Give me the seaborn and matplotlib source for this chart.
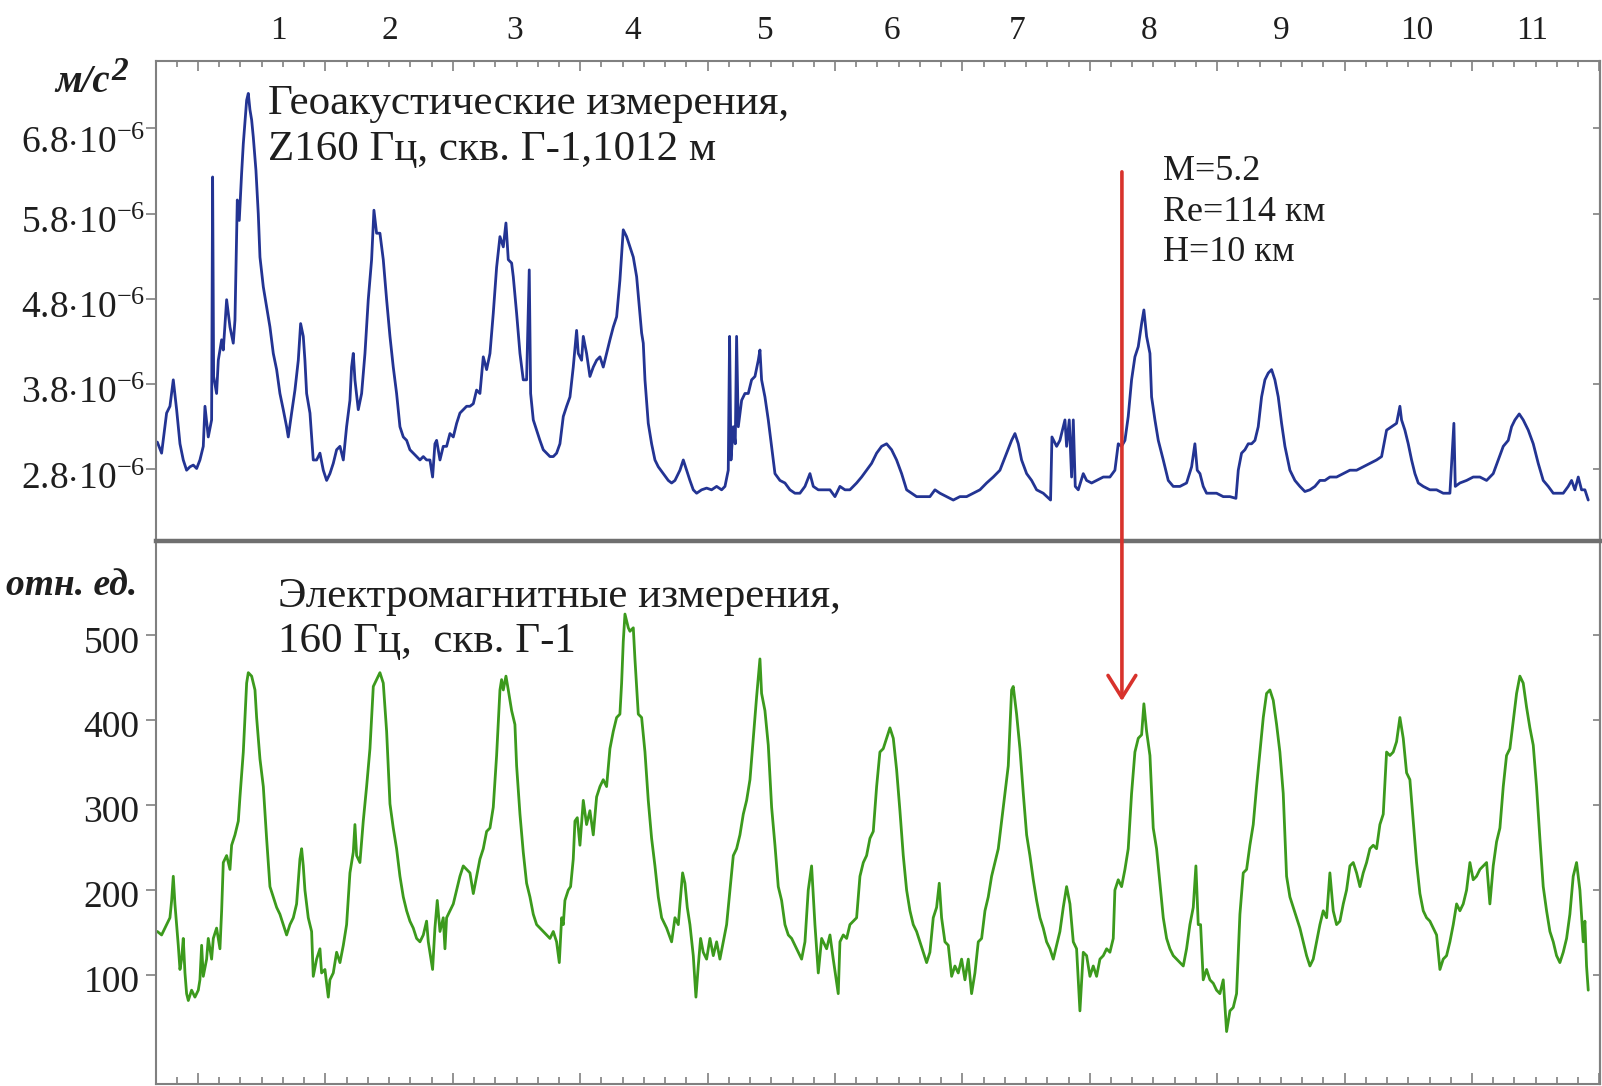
import matplotlib
matplotlib.use("Agg")
import numpy as np
import pandas as pd
import matplotlib.pyplot as plt
import matplotlib.transforms as mtransforms
import seaborn as sns
from matplotlib.patches import ConnectionPatch
from matplotlib.ticker import FixedLocator, NullFormatter

# ---- data (time in hours from the left edge) ----
# geoacoustic signal, Z 160 Hz, units of 1e-6 m/s^2
geo_hours = [
    0.33, 1.14, 2.08, 2.71, 3.34, 3.97, 4.60, 5.22, 5.85, 6.48,
    7.11, 7.74, 8.36, 8.99, 9.31, 9.93, 10.56, 10.75, 10.94, 11.50,
    11.82, 12.45, 12.76, 13.39, 14.02, 14.64, 14.96, 15.40, 15.77, 16.21,
    16.53, 17.16, 17.47, 17.78, 18.10, 18.41, 18.91, 19.35, 19.67, 20.30,
    20.92, 21.55, 22.18, 22.81, 23.43, 24.06, 24.69, 25.00, 25.63, 26.26,
    26.89, 27.33, 27.83, 28.14, 28.46, 29.09, 29.71, 30.34, 30.97, 31.60,
    32.23, 32.85, 33.48, 34.11, 34.74, 35.37, 35.99, 36.62, 36.93, 37.25,
    37.56, 38.19, 38.82, 39.45, 40.07, 40.70, 41.14, 41.64, 42.27, 42.90,
    43.53, 44.16, 44.78, 45.41, 46.04, 46.67, 47.30, 47.92, 48.55, 49.18,
    49.81, 50.44, 51.06, 51.69, 52.19, 52.63, 52.95, 53.58, 54.20, 54.83,
    55.46, 56.09, 56.72, 57.34, 57.97, 58.60, 59.23, 59.86, 60.48, 61.11,
    61.74, 62.37, 63.00, 63.62, 64.25, 64.88, 65.51, 66.01, 66.45, 67.08,
    67.39, 68.02, 68.65, 69.27, 69.90, 70.40, 70.66, 71.16, 71.79, 72.41,
    73.04, 73.67, 74.30, 74.93, 75.55, 76.18, 76.81, 77.44, 78.07, 78.69,
    79.32, 79.63, 80.26, 80.58, 81.20, 81.83, 82.46, 83.09, 83.72, 84.34,
    84.97, 85.60, 86.23, 86.86, 87.48, 88.11, 88.74,
    89.37, 90.00, 90.63, 91.25, 91.57, 91.88, 92.20, 92.82, 93.45, 94.08,
    94.71, 95.65, 96.59, 97.22, 97.85, 98.79, 99.42, 100.05, 100.67, 101.30,
    101.93, 102.87, 103.81, 104.75, 105.70, 106.64, 107.27, 107.89, 108.14, 108.40,
    108.84, 109.21, 109.46, 109.78, 110.41, 111.03, 111.66, 112.29, 112.92, 113.55,
    113.86, 114.17, 114.80, 115.43, 116.06, 116.69, 117.63, 118.57, 119.51, 120.45,
    121.39, 122.34, 123.28, 123.91, 124.85, 125.79, 127.05, 127.99, 128.93, 129.87,
    130.81, 132.07, 133.01, 133.95, 134.89, 135.84, 136.78, 137.72, 138.66, 139.60,
    140.55, 141.49, 142.43, 143.37, 144.63, 145.88, 146.83, 147.77, 149.02, 150.28,
    151.53, 152.79, 154.05, 155.30, 156.56, 157.81, 159.07, 160.33, 161.27, 161.90,
    162.53, 163.15, 164.10, 165.04, 165.98, 167.23, 168.61, 168.87, 169.75, 170.37,
    171.00, 171.32, 171.63, 172.13, 172.57, 172.89, 173.26, 173.83, 174.77, 175.40,
    176.34, 177.28, 178.54,
    179.79, 180.73, 181.36, 181.99, 182.62, 183.24, 183.87, 184.50, 185.13, 185.76,
    186.19, 186.70, 187.33, 187.64, 188.27, 188.90, 189.84, 190.78, 191.72, 192.98,
    194.23, 195.18, 195.80, 196.24, 196.75, 197.37, 198.00, 198.94, 199.88, 201.14,
    202.40, 203.53, 203.97, 204.59, 205.22, 205.85, 206.48, 207.11, 207.73, 208.36,
    208.99, 209.62, 210.25, 210.87, 211.50, 212.13, 212.76, 213.70, 214.64, 215.58,
    216.52, 217.47, 218.41, 219.35, 220.29, 221.23, 222.49, 223.75, 225.00, 226.26,
    227.51, 228.77, 230.02, 230.97, 231.91, 232.85, 233.79, 234.42, 234.73, 235.36,
    235.99, 236.62, 237.25, 237.88, 238.82, 240.07, 241.33, 242.58, 243.84, 244.59,
    244.85, 245.72, 246.98, 248.23, 249.49, 250.75, 252.00, 252.94, 253.89, 254.83,
    255.46, 256.09, 256.90, 257.65, 258.60, 259.54, 260.48, 261.42, 262.37, 263.31,
    264.25, 265.19, 266.13, 266.76, 267.39, 268.02, 268.64, 269.27, 269.90,
]
geo_values = [
    3.12, 2.99, 3.46, 3.54, 3.85, 3.50, 3.10, 2.91, 2.79, 2.83,
    2.85, 2.81, 2.91, 3.07, 3.54, 3.18, 3.38, 6.23, 3.89, 3.69,
    4.08, 4.32, 4.20, 4.79, 4.47, 4.28, 4.55, 5.96, 5.72, 6.27,
    6.62, 7.13, 7.21, 7.02, 6.90, 6.70, 6.31, 5.80, 5.29, 4.94,
    4.71, 4.47, 4.16, 3.97, 3.69, 3.50, 3.30, 3.18, 3.46, 3.73,
    4.08, 4.51, 4.36, 4.08, 3.69, 3.46, 2.91, 2.91, 2.99, 2.79,
    2.67, 2.75, 2.87, 3.03, 3.07, 2.91, 3.30, 3.61, 4.00, 4.16,
    3.85, 3.50, 3.69, 4.16, 4.79, 5.26, 5.84, 5.57, 5.57, 5.26,
    4.79, 4.36, 4.00, 3.69, 3.30, 3.18, 3.14, 3.03, 2.99, 2.95,
    2.91, 2.95, 2.91, 2.91, 2.71, 3.10, 3.14, 2.91, 3.07, 3.07,
    3.22, 3.18, 3.34, 3.46, 3.50, 3.54, 3.54, 3.57, 3.73, 3.69,
    4.12, 3.97, 4.16, 4.63, 5.17, 5.53, 5.41, 5.69, 5.26, 5.22,
    5.06, 4.63, 4.16, 3.85, 3.85, 5.14, 3.69, 3.38, 3.26, 3.14,
    3.03, 2.99, 2.95, 2.95, 2.99, 3.10, 3.42, 3.54, 3.65, 4.00,
    4.43, 4.16, 4.08, 4.36, 4.16, 3.89, 4.00, 4.08, 4.12, 4.00,
    4.16, 4.32, 4.47, 4.59, 5.02, 5.61, 5.53,
    5.41, 5.29, 5.06, 4.63, 4.40, 4.28, 3.85, 3.34, 3.10, 2.91,
    2.83, 2.75, 2.67, 2.64, 2.67, 2.79, 2.91, 2.79, 2.67, 2.56,
    2.52, 2.56, 2.58, 2.56, 2.60, 2.56, 2.60, 2.79, 4.36, 2.91,
    3.30, 3.10, 4.36, 3.30, 3.61, 3.69, 3.69, 3.85, 3.89, 4.08,
    4.20, 3.85, 3.65, 3.38, 3.07, 2.75, 2.67, 2.64, 2.56, 2.52,
    2.52, 2.60, 2.75, 2.60, 2.56, 2.56, 2.56, 2.48, 2.60, 2.56,
    2.56, 2.64, 2.71, 2.79, 2.87, 2.99, 3.07, 3.10, 3.03, 2.91,
    2.75, 2.56, 2.52, 2.48, 2.48, 2.48, 2.56, 2.52, 2.48, 2.44,
    2.48, 2.48, 2.52, 2.56, 2.64, 2.71, 2.79, 2.99, 3.14, 3.22,
    3.10, 2.91, 2.75, 2.67, 2.56, 2.52, 2.44, 3.18, 3.07, 3.14,
    3.30, 3.38, 3.07, 3.38, 2.71, 3.38, 2.60, 2.56, 2.75, 2.67,
    2.64, 2.67, 2.71,
    2.71, 2.79, 3.10, 3.07, 3.14, 3.42, 3.85, 4.12, 4.24, 4.51,
    4.67, 4.36, 4.16, 3.65, 3.38, 3.14, 2.91, 2.67, 2.60, 2.60,
    2.64, 2.83, 3.10, 2.79, 2.75, 2.60, 2.52, 2.52, 2.52, 2.48,
    2.48, 2.46, 2.79, 2.99, 3.03, 3.10, 3.10, 3.14, 3.30, 3.65,
    3.85, 3.93, 3.97, 3.85, 3.65, 3.34, 3.07, 2.79, 2.67, 2.60,
    2.54, 2.56, 2.60, 2.67, 2.67, 2.71, 2.71, 2.75, 2.79, 2.79,
    2.83, 2.87, 2.91, 2.95, 3.26, 3.30, 3.34, 3.54, 3.38, 3.26,
    3.10, 2.91, 2.75, 2.64, 2.60, 2.56, 2.56, 2.52, 2.52, 3.34,
    2.60, 2.64, 2.67, 2.71, 2.71, 2.67, 2.75, 2.91, 3.07, 3.14,
    3.30, 3.38, 3.45, 3.38, 3.26, 3.10, 2.87, 2.67, 2.60, 2.52,
    2.52, 2.52, 2.60, 2.67, 2.56, 2.71, 2.56, 2.56, 2.44,
]

# electromagnetic signal, 160 Hz, relative units
em_hours = [
    0.33, 1.14, 2.08, 2.71, 3.03, 3.34, 3.65, 3.97, 4.28, 4.60,
    4.91, 5.22, 5.54, 5.85, 6.17, 6.79, 7.42, 8.05, 8.36, 8.68,
    8.99, 9.62, 9.93, 10.56, 10.88, 11.50, 12.13, 12.45, 12.76, 13.39,
    14.02, 14.33, 14.96, 15.59, 15.90, 16.53, 17.16, 17.47, 18.10, 18.73,
    19.04, 19.67, 20.30, 20.92, 21.55, 22.18, 22.81, 23.43, 24.06, 24.69,
    25.32, 25.95, 26.57, 27.20, 27.52, 27.83, 28.14, 28.77, 29.40, 29.71,
    30.34, 30.97, 31.28, 31.91, 32.54, 32.85, 33.48, 34.11, 34.74, 35.37,
    35.99, 36.62, 37.25, 37.56, 37.88, 38.50, 39.13, 39.76, 40.39, 41.02,
    41.64, 42.27, 42.90, 43.53, 44.16, 44.78, 45.41, 46.04, 46.67, 47.30,
    47.92, 48.55, 49.18, 49.81, 50.44, 51.06, 51.38, 51.69, 52.19, 52.63,
    53.07, 53.58, 54.20, 54.52, 54.83, 55.46, 56.09, 56.72, 57.34, 57.97,
    58.60, 59.23, 59.86, 60.48, 61.11, 61.74, 62.37, 63.00, 63.62, 64.25,
    64.88, 65.19, 65.51, 66.01, 66.45, 67.08, 67.70, 68.02, 68.65, 69.27,
    69.90, 70.53, 71.16, 71.79, 72.41, 73.04, 73.67, 74.30, 74.93, 75.55,
    76.06, 76.50, 76.81, 77.12, 77.75, 78.19, 78.69, 79.01, 79.45, 79.95,
    80.58, 81.20, 81.83, 82.46, 83.09, 83.72, 84.34, 84.97, 85.60, 86.23,
    86.86, 87.48, 87.80, 88.11, 88.43, 88.74, 89.06,
    89.37, 90.00, 90.31, 90.94, 91.57, 92.20, 92.82, 93.45, 94.08, 94.71,
    95.34, 96.28, 97.22, 97.85, 98.48, 98.79, 99.29, 99.73, 100.17, 100.67,
    101.30, 101.80, 102.24, 102.68, 103.18, 103.81, 104.44, 105.07, 105.70, 106.32,
    106.95, 107.58, 108.21, 108.84, 109.46, 110.09, 110.72, 111.35, 111.98, 112.60,
    113.23, 113.86, 114.17, 114.80, 115.43, 116.06, 116.69, 117.31, 117.94, 118.57,
    119.20, 119.83, 120.45, 121.08, 121.71, 122.34, 122.96, 123.59, 124.22, 124.85,
    125.48, 126.42, 127.05, 127.67, 128.61, 128.93, 129.56, 130.19, 130.81, 131.44,
    132.07, 132.70, 133.33, 133.95, 134.58, 135.21, 135.84, 136.46, 137.09, 137.72,
    138.35, 138.98, 139.60, 140.23, 140.86, 141.49, 142.12, 142.74, 143.37, 144.00,
    144.63, 145.26, 145.88, 146.51, 147.14, 147.64, 148.08, 148.71, 149.34, 149.97,
    150.59, 151.22, 151.85, 152.48, 153.11, 153.73, 154.36, 154.99, 155.62, 156.25,
    156.87, 157.50, 158.13, 158.76, 159.39, 160.01, 160.64, 161.27, 161.58, 162.21,
    162.84, 163.47, 164.10, 164.72, 165.35, 165.98, 166.61, 167.23, 167.86, 168.49,
    169.12, 169.75, 170.37, 171.00, 171.63, 172.26, 172.89, 173.51, 174.14, 174.77,
    175.40, 176.03, 176.65, 177.28, 177.91, 178.54, 179.17,
    179.79, 180.42, 180.73, 181.36, 181.99, 182.62, 183.24, 183.87, 184.50, 185.13,
    185.76, 186.19, 186.70, 187.33, 187.95, 188.58, 189.21, 189.84, 190.47, 191.09,
    191.72, 192.35, 192.98, 193.61, 194.23, 194.86, 195.49, 195.99, 196.43, 196.87,
    197.37, 198.00, 198.63, 199.26, 199.88, 200.51, 201.14, 201.77, 202.40, 203.02,
    203.65, 204.28, 204.91, 205.54, 206.16, 206.79, 207.42, 208.05, 208.68, 209.30,
    209.93, 210.56, 211.19, 211.81, 212.44, 213.07, 213.70, 214.33, 214.95, 215.58,
    216.21, 216.84, 217.47, 218.09, 218.72, 219.35, 219.98, 220.61, 221.23, 221.86,
    222.49, 223.12, 223.75, 224.37, 225.00, 225.63, 226.26, 226.89, 227.51, 228.14,
    228.77, 229.40, 230.02, 230.65, 231.28, 231.91, 232.54, 233.16, 233.79, 234.42,
    235.05, 235.68, 236.30, 236.93, 237.56, 238.19, 238.82, 239.44, 240.07, 240.70,
    241.33, 241.96, 242.58, 243.21, 243.84, 244.47, 245.10, 245.72, 246.35, 246.98,
    247.61, 248.23, 248.86, 249.49, 250.12, 250.75, 251.37, 252.00, 252.63, 253.26,
    253.89, 254.51, 255.14, 255.77, 256.40, 257.02, 257.65, 258.28, 258.91, 259.54,
    260.16, 260.79, 261.42, 262.05, 262.68, 263.31, 263.93, 264.56, 265.19, 265.82,
    266.44, 267.07, 267.70, 268.33, 268.96, 269.27, 269.58, 269.90,
]
em_values = [
    150.9, 146.8, 159.0, 167.1, 187.5, 216.0, 183.4, 159.0, 134.6, 106.1,
    118.3, 142.7, 102.0, 77.6, 69.5, 81.7, 73.5, 81.7, 93.9, 134.6,
    98.0, 118.3, 142.7, 118.3, 142.7, 154.9, 130.5, 175.3, 232.2, 240.4,
    224.1, 252.6, 264.8, 281.1, 309.6, 362.5, 443.8, 456.1, 452.0, 435.7,
    403.2, 354.3, 321.8, 260.7, 203.8, 191.6, 179.3, 171.2, 159.0, 146.8,
    159.0, 167.1, 183.4, 236.3, 248.5, 228.2, 199.7, 167.1, 150.9, 98.0,
    118.3, 130.5, 102.0, 106.1, 73.5, 93.9, 102.0, 126.4, 114.2, 134.6,
    159.0, 220.0, 244.5, 277.0, 240.4, 232.2, 281.1, 321.8, 366.5, 439.8,
    447.9, 456.1, 443.8, 386.9, 301.4, 272.9, 248.5, 216.0, 191.6, 175.3,
    163.1, 154.9, 142.7, 138.7, 146.8, 163.1, 138.7, 126.4, 106.1, 154.9,
    187.5, 150.9, 167.1, 130.5, 167.1, 175.3, 183.4, 199.7, 216.0, 228.2,
    224.1, 220.0, 195.6, 216.0, 236.3, 248.5, 268.9, 272.9, 297.4, 358.4,
    435.7, 447.9, 435.7, 452.0, 435.7, 411.3, 395.0, 346.2, 289.2, 244.5,
    207.8, 191.6, 171.2, 159.0, 154.9, 150.9, 146.8, 142.7, 150.9, 138.7,
    114.2, 167.1, 159.0, 187.5, 199.7, 203.8, 236.3, 281.1, 285.1, 252.6,
    305.5, 277.0, 293.3, 264.8, 309.6, 321.8, 329.9, 321.8, 366.5, 386.9,
    403.2, 407.2, 443.8, 492.7, 525.2, 517.1, 509.0,
    504.9, 509.0, 472.3, 407.2, 403.2, 362.5, 305.5, 260.7, 228.2, 191.6,
    167.1, 154.9, 138.7, 167.1, 159.0, 183.4, 220.0, 207.8, 179.3, 159.0,
    122.4, 73.5, 110.2, 142.7, 126.4, 118.3, 142.7, 122.4, 138.7, 118.3,
    138.7, 159.0, 199.7, 240.4, 248.5, 264.8, 289.2, 305.5, 329.9, 378.7,
    427.6, 472.3, 431.6, 411.3, 370.6, 297.4, 252.6, 203.8, 187.5, 159.0,
    146.8, 142.7, 134.6, 126.4, 118.3, 138.7, 199.7, 228.2, 159.0, 102.0,
    142.7, 130.5, 146.8, 118.3, 77.6, 138.7, 146.8, 142.7, 159.0, 163.1,
    167.1, 216.0, 232.2, 240.4, 260.7, 268.9, 321.8, 362.5, 366.5, 378.7,
    391.0, 378.7, 342.1, 293.3, 240.4, 199.7, 175.3, 159.0, 150.9, 138.7,
    126.4, 114.2, 126.4, 167.1, 179.3, 207.8, 167.1, 138.7, 134.6, 98.0,
    110.2, 102.0, 118.3, 93.9, 118.3, 77.6, 102.0, 138.7, 142.7, 175.3,
    191.6, 216.0, 232.2, 248.5, 281.1, 313.6, 346.2, 435.7, 439.8, 407.2,
    366.5, 313.6, 264.8, 240.4, 211.9, 187.5, 167.1, 154.9, 138.7, 130.5,
    118.3, 134.6, 150.9, 179.3, 203.8, 183.4, 138.7, 130.5, 57.3, 126.4,
    122.4, 98.0, 110.2, 98.0, 118.3, 122.4, 130.5,
    126.4, 142.7, 199.7, 211.9, 203.8, 224.1, 248.5, 313.6, 362.5, 378.7,
    382.8, 419.4, 386.9, 358.4, 272.9, 248.5, 207.8, 167.1, 142.7, 130.5,
    122.4, 118.3, 114.2, 110.2, 130.5, 159.0, 179.3, 228.2, 159.0, 159.0,
    93.9, 106.1, 93.9, 89.8, 81.7, 77.6, 93.9, 32.9, 57.3, 61.3,
    77.6, 171.2, 220.0, 224.1, 252.6, 277.0, 321.8, 362.5, 403.2, 431.6,
    435.7, 423.5, 395.0, 362.5, 313.6, 216.0, 191.6, 179.3, 167.1, 154.9,
    138.7, 122.4, 110.2, 118.3, 138.7, 159.0, 175.3, 167.1, 220.0, 175.3,
    159.0, 163.1, 183.4, 199.7, 228.2, 232.2, 220.0, 203.8, 220.0, 232.2,
    248.5, 252.6, 248.5, 277.0, 289.2, 362.5, 358.4, 362.5, 374.7, 403.2,
    378.7, 338.0, 329.9, 281.1, 232.2, 195.6, 175.3, 167.1, 163.1, 154.9,
    146.8, 106.1, 118.3, 122.4, 138.7, 159.0, 183.4, 175.3, 183.4, 199.7,
    232.2, 211.9, 216.0, 224.1, 228.2, 232.2, 183.4, 228.2, 256.7, 272.9,
    321.8, 358.4, 366.5, 399.1, 431.6, 452.0, 443.8, 415.4, 391.0, 370.6,
    321.8, 260.7, 203.8, 175.3, 150.9, 138.7, 122.4, 114.2, 126.4, 142.7,
    171.2, 216.0, 232.2, 199.7, 138.7, 163.1, 110.2, 81.7,
]

geo_ticks = [2.8, 3.8, 4.8, 5.8, 6.8]
em_ticks = [100, 200, 300, 400, 500]

# numbered daily maxima above the top axis
peak_labels = ["1", "2", "3", "4", "5", "6", "7", "8", "9", "10", "11"]
peak_label_hours = [23.1, 44.2, 67.7, 89.9, 114.8, 138.7, 162.3, 187.2, 212.0, 237.6, 259.3]

# earthquake moment and its parameters
event_hour = 182.05
event_text = ["M=5.2", "Re=114 км", "H=10 км"]

geo = pd.DataFrame({"hours": geo_hours, "value": geo_values})
em = pd.DataFrame({"hours": em_hours, "value": em_values})

sns.set_theme(style="white")
plt.rcParams["font.family"] = ["Liberation Serif", "DejaVu Serif"]
plt.rcParams["mathtext.fontset"] = "custom"
plt.rcParams["mathtext.rm"] = "Liberation Serif"
plt.rcParams["mathtext.it"] = "Liberation Serif:italic"
plt.rcParams["mathtext.bf"] = "Liberation Serif:bold:italic"

GRAY = "#808080"
BLUE = "#233493"
GREEN = "#3c9a1d"
RED = "#d8322c"
INK = "#1e1e1e"

fig = plt.figure(figsize=(16.02, 10.86), dpi=100)
ax_top = fig.add_axes([0.0971, 0.5018, 0.9016, 0.4420])
ax_bot = fig.add_axes([0.0971, 0.0018, 0.9016, 0.5000])

sns.lineplot(data=geo, x="hours", y="value", ax=ax_top, color=BLUE,
             linewidth=2.0, estimator=None, sort=False)
sns.lineplot(data=em, x="hours", y="value", ax=ax_bot, color=GREEN,
             linewidth=2.0, estimator=None, sort=False)

ax_top.set_xlim(0, 272.1)
ax_top.set_ylim(1.959, 7.59)
ax_bot.set_xlim(0, 272.1)
ax_bot.set_ylim(-29.0, 611.3)

for ax in (ax_top, ax_bot):
    ax.set_xlabel("")
    ax.set_ylabel("")
    ax.set_facecolor("white")
    ax.xaxis.set_major_locator(FixedLocator(list(range(8, 273, 24))))
    ax.xaxis.set_minor_locator(FixedLocator(list(range(0, 273, 4))))
    ax.xaxis.set_major_formatter(NullFormatter())
    for s in ax.spines.values():
        s.set_color(GRAY)
        s.set_linewidth(1.5)

# top panel: ticks along the top edge
ax_top.tick_params(axis="x", which="both", direction="in", top=True, bottom=False,
                   labeltop=False, labelbottom=False, color=GRAY, width=1.2)
ax_top.tick_params(axis="x", which="major", length=7.5)
ax_top.tick_params(axis="x", which="minor", length=4.2)
ax_top.spines["bottom"].set_visible(False)

# bottom panel: ticks along the bottom edge, thick separator on top
ax_bot.tick_params(axis="x", which="both", direction="in", top=False, bottom=True,
                   labeltop=False, labelbottom=False, color=GRAY, width=1.2)
ax_bot.tick_params(axis="x", which="major", length=8)
ax_bot.tick_params(axis="x", which="minor", length=5)
ax_bot.spines["top"].set_linewidth(3.2)
ax_bot.spines["top"].set_color("#6f6f6f")

ax_top.set_yticks(geo_ticks)
ax_top.set_yticklabels([rf"${v:.1f}{{\cdot}}10^{{-6}}$" for v in geo_ticks])
ax_bot.set_yticks(em_ticks)
ax_bot.set_yticklabels([str(v) for v in em_ticks])
for ax, ticks, drop, pad in ((ax_top, geo_ticks, 6, 0.5), (ax_bot, em_ticks, 4, 4.5)):
    ax.tick_params(axis="y", which="major", direction="out", length=7, width=1.2,
                   color=GRAY, labelsize=27, pad=pad, left=True, right=False,
                   labelcolor=INK)
    shift = mtransforms.ScaledTranslation(0, -drop / 100, fig.dpi_scale_trans)
    for lab in ax.get_yticklabels():
        lab.set_transform(lab.get_transform() + shift)
    sec = ax.secondary_yaxis("right")
    sec.set_yticks(ticks)
    sec.tick_params(axis="y", direction="in", length=5, width=1.2, color=GRAY,
                    labelright=False)
    sec.spines["right"].set_color(GRAY)
    sec.spines["right"].set_linewidth(1.5)

# the uppermost label sits a little lower in the original
top_lab = ax_top.get_yticklabels()[-1]
top_lab.set_transform(top_lab.get_transform()
                      + mtransforms.ScaledTranslation(0, -0.05, fig.dpi_scale_trans))

# numbers of the daily maxima
for lab, h in zip(peak_labels, peak_label_hours):
    ax_top.text(h, 1.0625, lab, transform=ax_top.get_xaxis_transform(),
                ha="center", va="center", fontsize=24, color=INK)

# units
unit_top = ax_top.text(-0.0316, 0.956, "м/с", transform=ax_top.transAxes,
                       ha="right", va="center", fontsize=28, fontweight="bold",
                       fontstyle="italic", color=INK)
ax_top.annotate("2", xy=(1.03, 0.38), xycoords=unit_top, ha="left", va="bottom",
                fontsize=24, fontweight="bold", fontstyle="italic", color=INK)
ax_bot.text(-0.0127, 0.919, "отн. ед.", transform=ax_bot.transAxes,
            ha="right", va="center", fontsize=27, fontweight="bold",
            fontstyle="italic", color=INK)

# panel captions
ax_top.text(21.2, 7.09, "Геоакустические измерения,", fontsize=31,
            ha="left", va="center", color=INK)
ax_top.text(21.2, 6.55, "Z160 Гц, скв. Г-1,1012 м", fontsize=31,
            ha="left", va="center", color=INK)
ax_bot.text(23.06, 546, "Электромагнитные измерения,", fontsize=31,
            ha="left", va="center", color=INK)
ax_bot.text(23.06, 492, "160 Гц,  скв. Г-1", fontsize=31,
            ha="left", va="center", color=INK)

for txt, yv in zip(event_text, [6.29, 5.81, 5.34]):
    ax_top.text(189.8, yv, txt, fontsize=26, ha="left", va="center", color=INK)

# red arrow marking the earthquake, running through both panels
arrow = ConnectionPatch(xyA=(event_hour, 6.29), coordsA=ax_top.transData,
                        xyB=(event_hour, 422.6), coordsB=ax_bot.transData,
                        arrowstyle="->,head_length=0.8,head_width=0.5",
                        mutation_scale=20, color=RED, linewidth=2.6,
                        shrinkA=0, shrinkB=0, zorder=10)
fig.add_artist(arrow)

fig.savefig("out.png", dpi=100, facecolor="white")
